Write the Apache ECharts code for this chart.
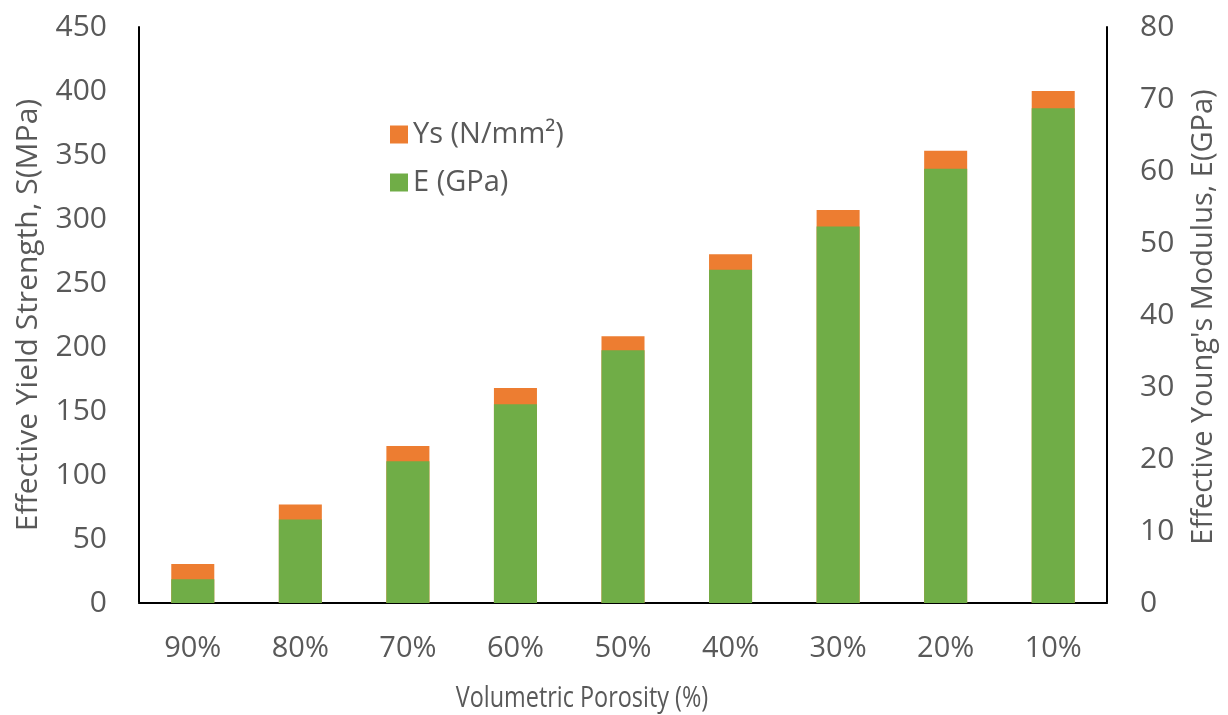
<!DOCTYPE html>
<html><head><meta charset="utf-8">
<script src="https://cdn.jsdelivr.net/npm/echarts@6/dist/echarts.min.js"></script>
<style>html,body{margin:0;padding:0;background:#fff}#c{width:1228px;height:715px}</style>
</head><body><div id="c"></div>
<script>
const categories = ['90%','80%','70%','60%','50%','40%','30%','20%','10%'];
const ysValues = [30.5, 77, 122.7, 168, 208.4, 272.4, 307, 353.4, 400];
const eValues = [3.3, 11.6, 19.7, 27.6, 35.1, 46.3, 52.3, 60.3, 68.7];
const leftTicks = [0, 450, 50];
const rightTicks = [0, 80, 10];

const FONT = '"Open Sans", "DejaVu Sans", sans-serif';
const TXT = '#595959';
const chart = echarts.init(document.getElementById('c'));
chart.setOption({
  animation: false,
  backgroundColor: '#fff',
  grid: { left: 139, right: 121, top: 27, bottom: 112 },
  legend: {
    orient: 'vertical', left: 385, top: 115, itemWidth: 18, itemHeight: 18, itemGap: 19,
    icon: 'rect',
    textStyle: { fontFamily: FONT, fontSize: 29, color: TXT, padding: [0,0,0,0] },
    data: ['Ys (N/mm²)', 'E (GPa)']
  },
  xAxis: [{
    type: 'category', data: categories,
    axisLine: { lineStyle: { color: '#d9d9d9', width: 1.5 } },
    axisTick: { show: false },
    axisLabel: { fontFamily: FONT, fontSize: 29, color: TXT, margin: 31 }
  }, {
    type: 'category', data: categories, position: 'top',
    axisLine: { lineStyle: { color: '#000', width: 2 } },
    axisTick: { show: false }, axisLabel: { show: false }
  }],
  yAxis: [{
    type: 'value', min: leftTicks[0], max: leftTicks[1], interval: leftTicks[2],
    axisLine: { show: true, lineStyle: { color: '#000', width: 2 } },
    axisTick: { show: false }, splitLine: { show: false },
    axisLabel: { fontFamily: FONT, fontSize: 30, color: TXT, margin: 32 }
  }, {
    type: 'value', min: rightTicks[0], max: rightTicks[1], interval: rightTicks[2],
    position: 'right',
    axisLine: { show: true, lineStyle: { color: '#000', width: 2 } },
    axisTick: { show: false }, splitLine: { show: false },
    axisLabel: { fontFamily: FONT, fontSize: 30, color: TXT, margin: 33 }
  }],
  graphic: [
    { type: 'text', x: 28, y: 315, rotation: Math.PI/2, style: { text: 'Effective Yield Strength, S(MPa)', fontFamily: FONT, fontSize: 30, fill: TXT, align: 'center', verticalAlign: 'middle' } },
    { type: 'text', x: 1204, y: 317, rotation: Math.PI/2, style: { text: "Effective Young's Modulus, E(GPa)", fontFamily: FONT, fontSize: 29, fill: TXT, align: 'center', verticalAlign: 'middle' } },
    { type: 'text', x: 582, y: 698, scaleX: 0.78, style: { text: 'Volumetric Porosity (%)', fontFamily: FONT, fontSize: 30, fill: TXT, align: 'center', verticalAlign: 'middle' } }
  ],
  series: [{
    name: 'Ys (N/mm²)', type: 'bar', data: ysValues, yAxisIndex: 0, xAxisIndex: 0,
    barWidth: '40%', barGap: '-100%', itemStyle: { color: '#ED7D31' }
  }, {
    name: 'E (GPa)', type: 'bar', data: eValues, yAxisIndex: 1, xAxisIndex: 0,
    barWidth: '40%', barGap: '-100%', itemStyle: { color: '#70AD47' }
  }]
});
</script></body></html>
